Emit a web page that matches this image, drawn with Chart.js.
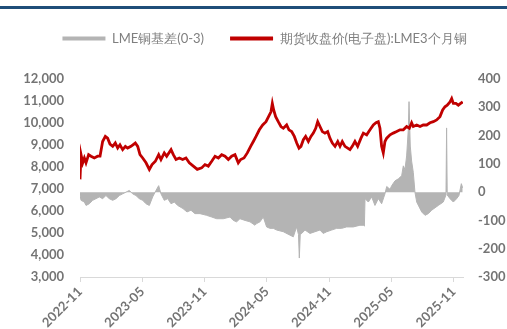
<!DOCTYPE html>
<html>
<head>
<meta charset="utf-8">
<script src="https://cdn.jsdelivr.net/npm/chart.js@4"></script>
<style>
  html, body { margin: 0; padding: 0; background: #fff; }
  #wrap { position: relative; width: 507px; height: 329px; }
  #topbar { position: absolute; left: 0; top: 6px; width: 507px; height: 3px; background: #1f4e79; }
  canvas { position: absolute; left: 0; top: 0; }
</style>
</head>
<body>
<div id="wrap">
  <canvas id="chart" width="507" height="329"></canvas>
  <div id="topbar"></div>
</div>
<script>
// x positions are months counted from 2022-11
const xTickLabels = ['2022-11', '2023-05', '2023-11', '2024-05', '2024-11', '2025-05', '2025-11'];

const priceMonths = [0.00, 0.10, 0.26, 0.42, 0.58, 0.83, 1.06, 1.38, 1.70, 1.93, 2.18, 2.44, 2.66, 2.89, 3.15, 3.40, 3.63, 3.85, 4.11, 4.37, 4.59, 4.91, 5.33, 5.56, 5.78, 6.04, 6.36, 6.68, 6.94, 7.26, 7.58, 7.80, 8.12, 8.35, 8.77, 8.99,
  9.25, 9.57, 9.89, 10.21, 10.53, 10.92, 11.30, 11.72, 12.04, 12.36, 12.69, 13.01, 13.33, 13.65, 13.97, 14.29, 14.61, 14.93, 15.25, 15.48, 15.80, 16.12, 16.44, 16.70, 16.96, 17.28, 17.60, 17.92,
  18.40, 18.53, 18.66, 18.85, 19.10, 19.36, 19.59, 19.91, 20.13, 20.39, 20.65, 20.88, 21.10, 21.29, 21.52, 21.74, 22.00, 22.25, 22.48, 22.71, 22.90, 23.12, 23.35, 23.60, 23.86, 24.08, 24.31, 24.57, 24.83, 25.05, 25.27, 25.53, 25.79, 26.01, 26.23, 26.49, 26.75, 27.07,
  27.30, 27.62, 27.94, 28.26, 28.52, 28.74, 28.90, 29.06, 29.22, 29.38, 29.55, 29.87, 30.18, 30.51, 30.83, 31.15, 31.47, 31.73, 31.95, 32.11, 32.44, 32.76, 33.07, 33.40, 33.72, 34.04, 34.36, 34.68, 34.94, 35.16, 35.38, 35.65, 35.81, 35.97, 36.22, 36.45, 36.67, 36.87];
const priceValues = [7440, 8560, 8190, 8410, 8190, 8560, 8490, 8410, 8490, 8490, 9160, 9390, 9310, 9040, 8940, 9090, 8860, 9010, 8790, 8940, 8860, 8940, 9090, 8940, 8560, 8410, 8190, 7890, 8110, 8260, 8560, 8340, 8640, 8490, 8790, 8560,
  8340, 8410, 8340, 8410, 8190, 8040, 7890, 7960, 8110, 8040, 8260, 8490, 8410, 8560, 8490, 8340, 8490, 8560, 8190, 8340, 8410, 8640, 8940, 9160, 9390, 9690, 9910, 10060,
  10510, 10890, 10590, 10290, 10060, 9840, 9760, 9910, 9690, 9610, 9390, 9090, 8860, 8940, 9240, 9390, 9160, 9390, 9540, 9760, 10060, 9840, 9610, 9540, 9610, 9310, 9090, 8940, 9160, 8940, 9160, 8940, 8860, 8790, 8940, 9160, 8940, 9310,
  9540, 9460, 9690, 9910, 10010, 10060, 9760, 8940, 8640, 9160, 9310, 9460, 9540, 9610, 9690, 9690, 9840, 9760, 10010, 9840, 9910, 9840, 9910, 9910, 10010, 10060, 10140, 10290, 10590, 10740, 10810, 10960, 11110, 10890, 10890, 10810, 10890, 10960];

const basisMonths = [0.00, 0.10, 0.42, 0.58, 0.90, 1.22, 1.54, 1.86, 2.18, 2.50, 2.82, 3.15, 3.47, 3.79, 4.11, 4.43, 4.75, 5.07, 5.39, 5.71, 6.04, 6.36, 6.68, 7.00, 7.32, 7.58, 7.80, 8.12, 8.45, 8.77, 9.09, 9.41, 9.92, 10.31, 10.69, 11.08,
  11.56, 12.20, 12.69, 13.17, 13.81, 14.45, 14.77, 15.09, 15.41, 15.90, 16.38, 16.86, 17.02, 17.34, 17.66, 17.98, 18.30, 18.62, 18.95, 19.59, 20.23, 20.55, 20.87, 21.05, 21.13, 21.22, 21.36, 21.68, 22.16, 22.64, 23.12, 23.43, 23.77, 24.25, 24.73, 25.21, 25.69, 26.33, 26.97, 27.30, 27.40,
  27.46, 27.78, 28.10, 28.42, 28.74, 29.06, 29.38, 29.55, 29.87, 30.03, 30.35, 30.67, 30.99, 31.15, 31.31, 31.47, 31.63, 31.70, 31.82, 31.95, 32.11, 32.27, 32.44, 32.92, 33.24, 33.56, 33.88, 34.52, 35.00, 35.26, 35.32, 35.38, 35.65, 35.97, 36.29, 36.51, 36.74, 36.87];
const basisValues = [-10, -29, -35, -47, -41, -29, -23, -17, -23, -12, -23, -29, -23, -12, -6, 0, 6, -6, -12, -23, -29, -41, -47, -17, 6, 23, -6, -29, -23, -41, -35, -47, -58, -70, -64, -76,
  -76, -82, -88, -94, -94, -88, -100, -105, -94, -100, -105, -117, -111, -105, -88, -123, -128, -128, -134, -140, -152, -158, -123, -150, -233, -150, -146, -134, -146, -140, -134, -146, -140, -134, -128, -128, -123, -123, -117, -117, -120,
  -23, -35, -17, -47, -23, -41, -6, 20, 10, 23, 40, 47, 58, 93, 80, 128, 222, 320, 163, 110, 70, 0, -35, -70, -82, -76, -64, -47, -35, -10, 227, -10, -23, -35, -23, -12, 30, 15];

const labelColor = '#747474';
const axisFont = { family: 'Lato', size: 13, weight: 'bold' };

// push the plot down below the legend, and nudge the legend a bit right
const legendGap = {
  id: 'legendGap',
  beforeInit(chart) {
    const fit = chart.legend.fit;
    chart.legend.fit = function () {
      fit.bind(chart.legend)();
      this.height += 24;
    };
  },
  afterLayout(chart) {
    chart.legend.left += 11;
    chart.legend.right += 11;
  }
};

const ctx = document.getElementById('chart').getContext('2d');
new Chart(ctx, {
  type: 'line',
  data: {
    datasets: [
      {
        label: 'LME铜基差(0-3)',
        data: basisMonths.map((m, i) => ({ x: m, y: basisValues[i] })),
        yAxisID: 'y1',
        borderColor: '#b4b4b4',
        backgroundColor: '#b4b4b4',
        borderWidth: 1,
        pointRadius: 0,
        fill: 'origin',
        tension: 0,
        order: 2
      },
      {
        label: '期货收盘价(电子盘):LME3个月铜',
        data: priceMonths.map((m, i) => ({ x: m, y: priceValues[i] })),
        yAxisID: 'y',
        borderColor: '#c00000',
        backgroundColor: '#c00000',
        borderWidth: 2.8,
        pointRadius: 0,
        fill: false,
        tension: 0,
        order: 1
      }
    ]
  },
  plugins: [legendGap],
  options: {
    responsive: false,
    animation: false,
    layout: { padding: { top: 6, left: 0, right: 0, bottom: 0 } },
    plugins: {
      tooltip: { enabled: false },
      legend: {
        position: 'top',
        labels: {
          color: '#7f7f7f',
          font: { family: 'Lato', size: 13 },
          boxWidth: 43,
          boxHeight: 4,
          padding: 26,
          generateLabels: (chart) => chart.data.datasets.map((ds, i) => ({
            text: ds.label,
            fillStyle: ds.borderColor,
            strokeStyle: ds.borderColor,
            lineWidth: 0,
            fontColor: '#7f7f7f',
            datasetIndex: i
          }))
        }
      }
    },
    scales: {
      x: {
        type: 'linear',
        min: 0,
        max: 36.9,
        afterBuildTicks: (scale) => { scale.ticks = xTickLabels.map((t, i) => ({ value: i * 6 })); },
        afterFit: (scale) => { scale.height = 52; },
        ticks: {
          autoSkip: false,
          maxRotation: 45,
          minRotation: 45,
          padding: 2,
          color: labelColor,
          font: axisFont,
          callback: (v) => xTickLabels[Math.round(v / 6)]
        },
        grid: { drawOnChartArea: false, drawTicks: true, tickLength: 5, color: '#d9d9d9' },
        border: { color: '#d9d9d9', width: 1 }
      },
      y: {
        position: 'left',
        min: 3000,
        max: 12000,
        afterFit: (scale) => { scale.width = 80; },
        ticks: {
          stepSize: 1000,
          padding: 16,
          color: labelColor,
          font: axisFont,
          callback: (v) => v.toLocaleString('en-US')
        },
        grid: { display: false, drawTicks: false },
        border: { display: false }
      },
      y1: {
        position: 'right',
        min: -300,
        max: 400,
        afterFit: (scale) => { scale.width = 44; },
        ticks: {
          stepSize: 100,
          padding: 15,
          color: labelColor,
          font: axisFont
        },
        grid: { display: false, drawTicks: false },
        border: { display: false }
      }
    }
  }
});
</script>
</body>
</html>
